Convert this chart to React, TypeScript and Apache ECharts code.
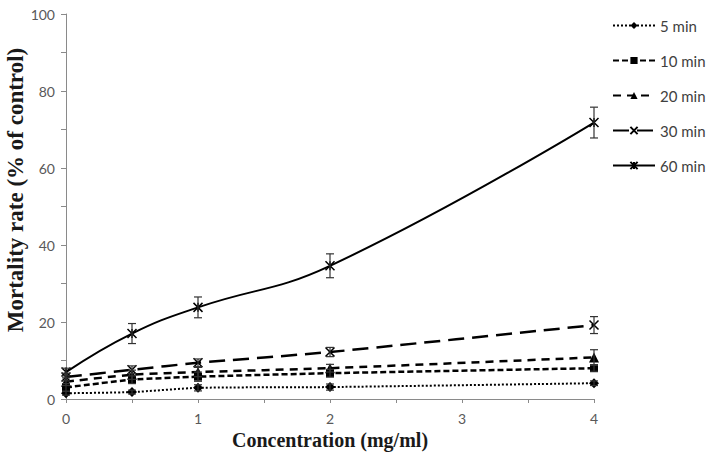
import React, { useEffect, useRef } from "react";
import * as echarts from "echarts";

const concentrations = [0, 0.5, 1, 2, 4];
const min5 = [1.5, 1.8, 2.9, 3.1, 4.1];
const min10 = [3, 5, 5.8, 6.7, 8];
const min20 = [4.5, 6.3, 7, 8, 10.8];
const min30 = [5.7, 7.6, 9.4, 12.2, 19.2];
const min60 = [7, 17, 23.8, 34.6, 71.8];
const err5 = [0.5, 0.5, 0.8, 0.8, 0.6];
const err10 = [1, 1, 1.2, 1, 0.8];
const err20 = [1, 1.2, 1.2, 1, 2];
const err30 = [1, 1, 1, 1.2, 2.2];
const err60 = [1, 2.6, 2.7, 3.1, 4];
const seriesNames = ["5 min", "10 min", "20 min", "30 min", "60 min"];
const yTicks = [0, 20, 40, 60, 80, 100];
const xTicks = [0, 1, 2, 3, 4];

const CROSS = "path://M0,0L10,10M10,0L0,10";
const STAR = "path://M0,0L10,10M10,0L0,10M5,0L5,10";

export default function App() {
  const ref = useRef<HTMLDivElement>(null);
  useEffect(() => {
    document.body.style.margin = "0";
    if (!ref.current) return;
    const chart = echarts.init(ref.current, null, { renderer: "svg" });
    const values = [min5, min10, min20, min30, min60];
    const errs = [err5, err10, err20, err30, err60];
    const styles = [
      { symbol: "diamond", size: 10, dash: [2, 2], width: 2, stroke: false },
      { symbol: "rect", size: 8, dash: [6, 3], width: 2.5, stroke: false },
      { symbol: "triangle", size: 10, dash: [8, 6], width: 2.5, stroke: false },
      { symbol: CROSS, size: 9, dash: [16, 8], width: 2.5, stroke: true },
      { symbol: STAR, size: 9, dash: "solid", width: 2, stroke: true },
    ];
    const lineSeries: any[] = seriesNames.map((name, i) => ({
      name,
      type: "line",
      smooth: i === 4 ? 0.45 : 0.2,
      data: concentrations.map((c, j) => [c, values[i][j]]),
      symbol: styles[i].symbol,
      symbolSize: styles[i].size,
      showSymbol: true,
      lineStyle: { color: "#000", width: styles[i].width, type: styles[i].dash },
      itemStyle: styles[i].stroke
        ? { color: "#000", borderColor: "#000", borderWidth: 1.5 }
        : { color: "#000", borderWidth: 0 },
      z: 3,
    }));
    const errSeries: any[] = seriesNames.map((name, i) => ({
      type: "custom",
      silent: true,
      z: 4,
      data: concentrations.map((c, j) => [c, values[i][j], errs[i][j]]),
      renderItem: (params: any, api: any) => {
        const x = api.value(0);
        const y = api.value(1);
        const e = api.value(2);
        const top = api.coord([x, y + e]);
        const bot = api.coord([x, y - e]);
        const cw = 4;
        const st = { stroke: "#333", lineWidth: 1.2 };
        return {
          type: "group",
          children: [
            { type: "line", shape: { x1: top[0], y1: top[1], x2: bot[0], y2: bot[1] }, style: st },
            { type: "line", shape: { x1: top[0] - cw, y1: top[1], x2: top[0] + cw, y2: top[1] }, style: st },
            { type: "line", shape: { x1: bot[0] - cw, y1: bot[1], x2: bot[0] + cw, y2: bot[1] }, style: st },
          ],
        };
      },
    }));

    chart.setOption({
      animation: false,
      backgroundColor: "#fff",
      grid: { left: 66, right: 114, top: 14, bottom: 61 },
      xAxis: {
        type: "value",
        min: 0,
        max: 4,
        interval: 0.5,
        axisLine: { lineStyle: { color: "#8a8a8a", width: 1 } },
        axisTick: { show: true, length: 4, lineStyle: { color: "#8a8a8a" } },
        splitLine: { show: false },
        axisLabel: {
          margin: 12,
          color: "#595959",
          fontFamily: "Lato",
          fontSize: 14,
          formatter: (v: number) => (xTicks.includes(v) ? String(v) : ""),
        },
      },
      yAxis: {
        type: "value",
        min: 0,
        max: 100,
        interval: 20,
        axisLine: { show: true, lineStyle: { color: "#8a8a8a", width: 1 } },
        axisTick: { show: true, length: 5, lineStyle: { color: "#8a8a8a" } },
        minorTick: { show: true, splitNumber: 2, length: 5, lineStyle: { color: "#8a8a8a" } },
        splitLine: { show: false },
        axisLabel: {
          margin: 11,
          color: "#595959",
          fontFamily: "Lato",
          fontSize: 14,
          formatter: (v: number) => (yTicks.includes(v) ? String(v) : ""),
        },
      },
      legend: {
        data: seriesNames,
        orient: "vertical",
        left: 607,
        top: 13,
        itemWidth: 42,
        itemHeight: 9,
        itemGap: 20,
        textStyle: { color: "#404040", fontFamily: "Lato", fontSize: 15 },
      },
      graphic: [
        {
          type: "text",
          x: 330,
          y: 440,
          style: {
            text: "Concentration (mg/ml)",
            font: "bold 20px 'Liberation Serif'",
            fill: "#1a1a1a",
            align: "center",
            verticalAlign: "middle",
          },
        },
        {
          type: "text",
          x: 15,
          y: 190,
          rotation: Math.PI / 2,
          style: {
            text: "Mortality rate (% of control)",
            font: "bold 23px 'Liberation Serif'",
            fill: "#1a1a1a",
            align: "center",
            verticalAlign: "middle",
          },
        },
      ],
      series: [...lineSeries, ...errSeries],
    });
    return () => chart.dispose();
  }, []);
  return <div ref={ref} style={{ width: 708, height: 460 }} />;
}
